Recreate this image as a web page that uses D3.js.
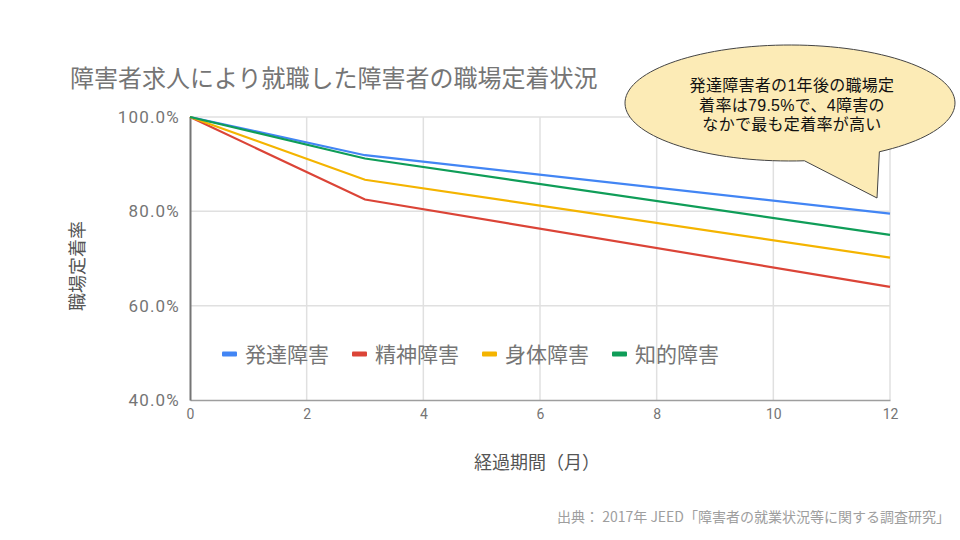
<!DOCTYPE html>
<html><head><meta charset="utf-8">
<script src="https://cdn.jsdelivr.net/npm/d3@7"></script>
<style>
body{margin:0;background:#fff;}
svg{display:block;font-family:"Noto Sans CJK JP",Roboto,sans-serif;}
</style></head>
<body>
<svg id="c" width="960" height="540"></svg>
<script>
const months = [0, 3, 12];
const seriesNames = ["発達障害", "精神障害", "身体障害", "知的障害"];
const hattatsu = [100, 91.9, 79.5];
const seishin = [100, 82.5, 64.0];
const shintai = [100, 86.7, 70.2];
const chiteki = [100, 91.2, 75.0];
const colors = ["#4285F4", "#DB4437", "#F4B400", "#0F9D58"];
const xTicks = [0, 2, 4, 6, 8, 10, 12];
const yTicks = [40, 60, 80, 100];
const title = "障害者求人により就職した障害者の職場定着状況";
const xTitle = "経過期間（月）";
const yTitle = "職場定着率";
const calloutLines = ["発達障害者の1年後の職場定", "着率は79.5%で、4障害の", "なかで最も定着率が高い"];
const source = "出典： 2017年 JEED「障害者の就業状況等に関する調査研究」";

const allSeries = [hattatsu, seishin, shintai, chiteki];
const svg = d3.select("#c");
const x = d3.scaleLinear().domain([0, 12]).range([190, 890]);
const y = d3.scaleLinear().domain([40, 100]).range([400, 117]);

// title
svg.append("text").attr("x", 70).attr("y", 87).attr("font-size", 24)
  .attr("fill", "#757575").text(title);

// grid
svg.append("g").selectAll("line").data(xTicks.filter(d => d > 0)).join("line")
  .attr("x1", d => x(d)).attr("x2", d => x(d)).attr("y1", y(100)).attr("y2", y(40))
  .attr("stroke", "#e0e0e0").attr("stroke-width", 1.5);
svg.append("g").selectAll("line").data(yTicks.filter(d => d > 40)).join("line")
  .attr("x1", x(0)).attr("x2", x(12)).attr("y1", d => y(d)).attr("y2", d => y(d))
  .attr("stroke", "#e0e0e0").attr("stroke-width", 1.5);

// axes
const xAxis = svg.append("g").attr("transform", `translate(0,${y(40)})`)
  .call(d3.axisBottom(x).tickValues(xTicks).tickSize(0).tickPadding(9).tickFormat(d3.format("d")));
xAxis.select(".domain").attr("stroke", "#9e9e9e").attr("stroke-width", 1.5);
xAxis.selectAll("text").attr("font-family", "Roboto").attr("font-size", 14).attr("fill", "#757575");

const yAxis = svg.append("g").attr("transform", `translate(${x(0)},0)`)
  .call(d3.axisLeft(y).tickValues(yTicks).tickSize(0).tickPadding(10).tickFormat(d => d.toFixed(1) + "%"));
yAxis.select(".domain").attr("stroke", "#757575").attr("stroke-width", 2);
yAxis.selectAll("text").attr("font-family", "Roboto").attr("font-size", 17)
  .attr("letter-spacing", 1.2).attr("fill", "#757575");

// lines
const line = d3.line().x((d, i) => x(months[i])).y(d => y(d));
allSeries.forEach((s, i) => {
  svg.append("path").datum(s).attr("d", line).attr("fill", "none")
    .attr("stroke", colors[i]).attr("stroke-width", 2.2);
});

// axis titles
svg.append("text").attr("x", 537).attr("y", 469).attr("text-anchor", "middle")
  .attr("font-size", 18).attr("fill", "#555").text(xTitle);
svg.append("text").attr("transform", "translate(84,266) rotate(-90)").attr("text-anchor", "middle")
  .attr("font-size", 18).attr("fill", "#555").text(yTitle);

// legend
const lg = svg.append("g").selectAll("g").data(seriesNames).join("g")
  .attr("transform", (d, i) => `translate(${222 + i * 130},354)`);
lg.append("rect").attr("x", 0).attr("y", -2.5).attr("width", 15).attr("height", 5).attr("rx", 1)
  .attr("fill", (d, i) => colors[i]);
lg.append("text").attr("x", 23).attr("y", 8).attr("font-size", 21).attr("fill", "#757575").text(d => d);

// callout
const cx = 790, cy = 103, rx = 165, ry = 58;
const tip = [877, 198];
const a1 = Math.atan2((163 - cy) / ry, (805 - cx) / rx);
const a2 = Math.atan2((157 - cy) / ry, (889 - cx) / rx);
const p = d3.path();
p.moveTo(cx + rx * Math.cos(a1), cy + ry * Math.sin(a1));
p.lineTo(tip[0], tip[1]);
p.lineTo(cx + rx * Math.cos(a2), cy + ry * Math.sin(a2));
const N = 120;
const start = a2, end = a1 - 2 * Math.PI;
for (let k = 1; k <= N; k++) {
  const t = start + (end - start) * k / N;
  p.lineTo(cx + rx * Math.cos(t), cy + ry * Math.sin(t));
}
p.closePath();
svg.append("path").attr("d", p.toString()).attr("fill", "#FCEBB6").attr("stroke", "#444").attr("stroke-width", 1);
const ct = svg.append("text").attr("text-anchor", "middle").attr("font-size", 16)
  .attr("font-family", "'Liberation Sans','Noto Sans CJK JP',sans-serif")
  .attr("letter-spacing", 0.3).attr("fill", "#111");
ct.selectAll("tspan").data(calloutLines).join("tspan")
  .attr("x", 792).attr("y", (d, i) => 91 + i * 19.5).text(d => d);

// source
svg.append("text").attr("x", 950).attr("y", 522).attr("text-anchor", "end")
  .attr("font-size", 14).attr("fill", "#9e9e9e").text(source);
</script>
</body></html>
